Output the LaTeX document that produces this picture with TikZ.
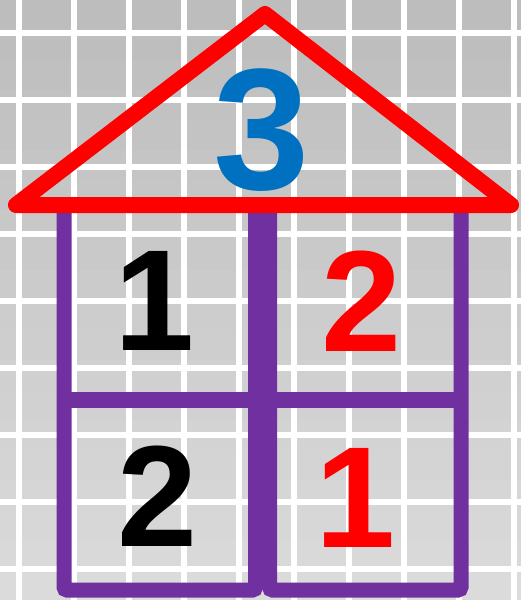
\documentclass[tikz,border=0pt]{standalone}
\usepackage{fontspec}
\setmainfont{Liberation Sans}
\begin{document}
\begin{tikzpicture}[x=1pt, y=-1pt, every node/.style={font=\bfseries, inner sep=0pt}]
\definecolor{GridTop}{HTML}{BDBDBD}\definecolor{GridBot}{HTML}{DCDCDC}\definecolor{Wall}{HTML}{7030A0}\definecolor{Roof}{HTML}{FF0000}\definecolor{Attic}{HTML}{0070C0}
\useasboundingbox (0,0) rectangle (521,600);
% paper: light grey getting paler downwards, white grid
\foreach \b [evaluate=\b as \pc using int(\b*5)] in {0,...,19} \fill[GridBot!\pc!GridTop] (0,\b*30) rectangle (521,\b*30+31);
\foreach \gx in {19,74,129,184,239,294,349,404,459,514} \draw[white, line width=6] (\gx,0) -- (\gx,600);
\foreach \gy in {33,100,167,234,301,368,435,502,569} \draw[white, line width=6] (0,\gy) -- (521,\gy);
% walls: two rooms side by side
\draw[Wall, line width=15, rounded corners=3] (64,205) rectangle (255.5,590); \draw[Wall, line width=15, rounded corners=3] (269.5,205) rectangle (461,590);
\draw[Wall, line width=16] (64,400) -- (461,400);
% roof
\coordinate (L) at (16,205); \coordinate (T) at (265,14); \coordinate (R) at (511,205);
\draw[Roof, line width=16, line cap=round, line join=round] (L) -- (T) -- (R) -- cycle;
\node[text=Attic, font=\bfseries\fontsize{173}{173}\selectfont] (top) at (262,130) {3};
\node[font=\bfseries\fontsize{144}{144}\selectfont] (ul) at (155,301) {1};
\node[text=Roof, font=\bfseries\fontsize{144}{144}\selectfont] (ur) at (362,301) {2};
\node[font=\bfseries\fontsize{144}{144}\selectfont] (ll) at (157.5,496) {2};
\node[text=Roof, font=\bfseries\fontsize{144}{144}\selectfont] (lr) at (356,498) {1};
\end{tikzpicture}
\end{document}
